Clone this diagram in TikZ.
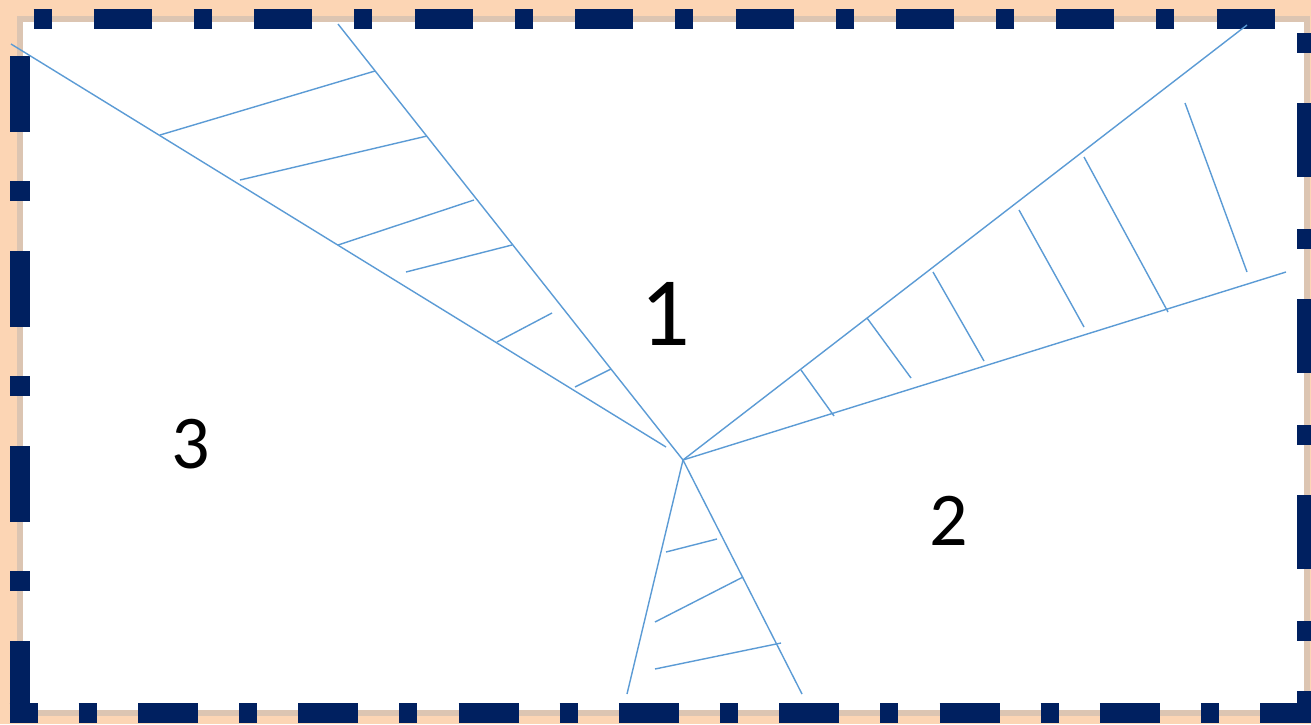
\documentclass[tikz,border=0pt]{standalone}
\usepackage{fontspec}
\setmainfont{Carlito}
\usepackage{tikz}
\definecolor{peach}{HTML}{FCD5B4}
\definecolor{navy}{HTML}{002060}
\definecolor{tanline}{HTML}{DCC5B2}
\definecolor{wedgeblue}{HTML}{5B9BD5}
\tikzset{
  wedge/.style={draw=wedgeblue,line width=0.7pt},
  frameside/.style={draw=navy,line width=10pt},
  region/.style={font=\fontsize{38}{40}\selectfont,inner sep=0pt}
}

\begin{document}
\begin{tikzpicture}[x=0.5pt,y=-0.5pt]
  \useasboundingbox (0,0) rectangle (1311,724);
  \fill[peach] (0,0) rectangle (1311,724);
  \fill[white] (19.5,19) rectangle (1307,713);
  \draw[tanline,line width=3pt] (19.5,19) rectangle (1307,713);

  % dashed frame, one side at a time
  \draw[frameside,dash pattern=on 29pt off 21pt on 9pt off 21.2pt,dash phase=38pt]
    (9.5,19) -- (1317,19);
  \draw[frameside,dash pattern=on 38pt off 24.5pt on 10pt off 25pt,dash phase=74pt]
    (19.5,9) -- (19.5,723);
  \draw[frameside,dash pattern=on 37pt off 26pt on 10pt off 25pt,dash phase=51pt]
    (1307,9) -- (1307,723);
  \draw[frameside,dash pattern=on 30pt off 20.5pt on 9pt off 20.65pt,dash phase=15.9pt]
    (9.5,713) -- (1317,713);

  \coordinate (joint) at (683,460);

  % upper left wedge
  \draw[wedge] (11,44) -- (666,447);
  \draw[wedge] (338,24) -- (joint);
  \draw[wedge] (160,135) -- (375,71);
  \draw[wedge] (240,180) -- (427,136);
  \draw[wedge] (338,245) -- (474,200);
  \draw[wedge] (406,272) -- (512,245);
  \draw[wedge] (497,342) -- (552,313);
  \draw[wedge] (575,387) -- (611,369);

  % right wedge
  \draw[wedge] (joint) -- (1247,25);
  \draw[wedge] (joint) -- (1286,272);
  \draw[wedge] (801,370) -- (834,416);
  \draw[wedge] (867,318) -- (911,378);
  \draw[wedge] (933,272) -- (984,361);
  \draw[wedge] (1019,210) -- (1084,327);
  \draw[wedge] (1084,157) -- (1168,312);
  \draw[wedge] (1185,103) -- (1247,272);

  % lower wedge
  \draw[wedge] (joint) -- (627,694);
  \draw[wedge] (joint) -- (802,694);
  \draw[wedge] (666,552) -- (717,539);
  \draw[wedge] (655,622) -- (743,577);
  \draw[wedge] (655,669) -- (781,643);

  \node[region,font=\fontsize{49}{52}\selectfont] (one) at (665,314) {1};
  \node[region] (two) at (949,521) {2};
  \node[region] (three) at (191,444) {3};
\end{tikzpicture}
\end{document}
